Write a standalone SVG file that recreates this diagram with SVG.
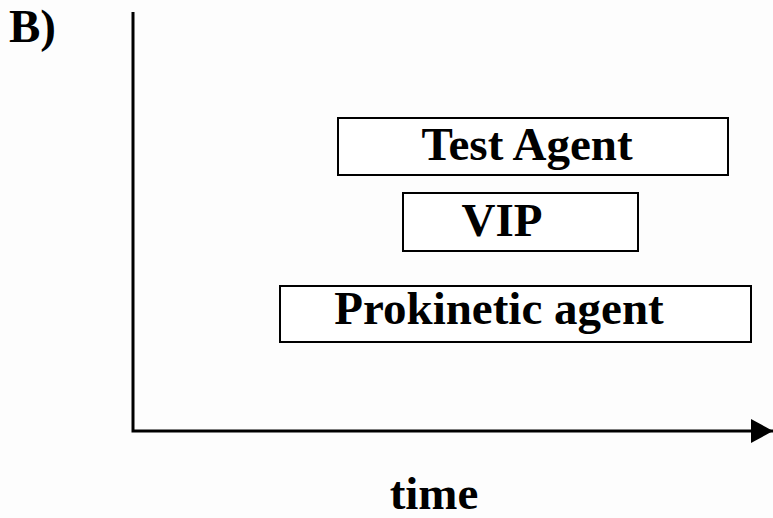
<svg xmlns="http://www.w3.org/2000/svg" width="773" height="518" viewBox="0 0 773 518">
<style>
.t{font-family:"Liberation Serif","Times New Roman",serif;font-weight:bold;font-size:47px;fill:#000;}
.box{fill:#fff;stroke:#000;stroke-width:2;}
.ax{stroke:#000;stroke-width:3;fill:none;}
</style>
<defs>
<marker id="arr" markerUnits="userSpaceOnUse" markerWidth="24" markerHeight="24" refX="22" refY="12" orient="auto">
<path d="M0,0 L22,12 L0,24 Z" fill="#000"/>
</marker>
</defs>
<rect width="773" height="518" fill="#fdfdfd"/>
<text class="t" x="9" y="42">B)</text>
<g id="connectors">
<path class="ax" d="M133,12 L133,431 L773,431" marker-end="url(#arr)"/>
</g>
<g id="test-agent">
<rect class="box" x="338" y="118" width="390" height="57"/>
<text class="t" x="527" y="160" text-anchor="middle">Test Agent</text>
</g>
<g id="vip">
<rect class="box" x="403" y="193" width="235" height="58"/>
<text class="t" x="502" y="236" text-anchor="middle">VIP</text>
</g>
<g id="prokinetic">
<rect class="box" x="280" y="286" width="471" height="56"/>
<text class="t" x="499" y="324" text-anchor="middle">Prokinetic agent</text>
</g>
<text class="t" x="434" y="509" text-anchor="middle">time</text>
</svg>
